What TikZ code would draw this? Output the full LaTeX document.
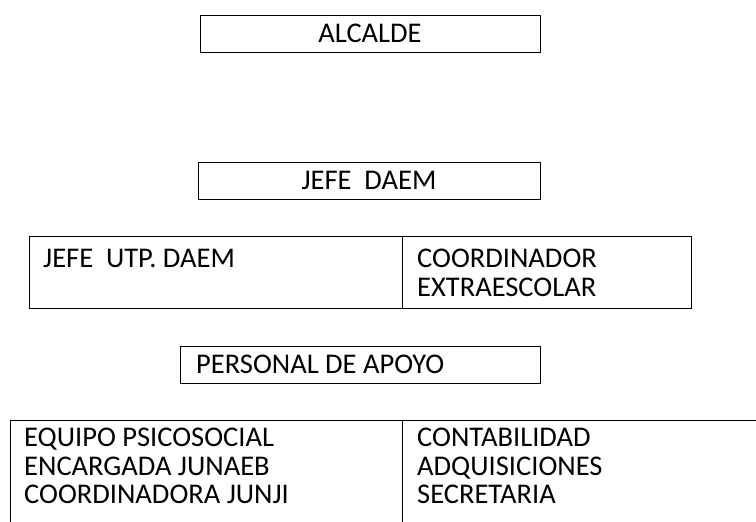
\documentclass[tikz,border=0pt]{standalone}
\usepackage{fontspec}
\setmainfont{Carlito}
\begin{document}
\begin{tikzpicture}[x=1pt,y=-1pt,
    every node/.style={font=\fontsize{28.5}{28.5}\selectfont},
    box/.style={draw, line width=1pt, inner sep=0pt},
    frame/.style={line width=1pt},
    cell/.style={anchor=base west, align=left, inner sep=0pt}]
  \useasboundingbox (0,0) rectangle (756,522);
  \clip (0,0) rectangle (756,522);
  % head
  \node[box, minimum width=340pt, minimum height=37pt] (alcalde) at (370,33.5) {ALCALDE};
  \node[box, minimum width=342pt, minimum height=37pt] (jefe) at (369,180.5) {JEFE\ \ DAEM};
  % utp and extraescolar
  \coordinate (utpNW) at (29,236);
  \coordinate (utpSE) at (691,308);
  \coordinate (utpMid) at (402,236);
  \draw[frame] (utpNW) rectangle (utpSE);
  \draw[frame] (utpMid) -- (utpMid |- utpSE);
  \node[cell] (utp) at (43,267) {JEFE\ \ UTP. DAEM};
  \node[cell] (coord) at (417,267) {COORDINADOR};
  \node[cell] (extra) at (417,296) {EXTRAESCOLAR};
  % apoyo
  \coordinate (apoyoNW) at (180,346);
  \coordinate (apoyoSE) at (540,383);
  \draw[frame] (apoyoNW) rectangle (apoyoSE);
  \node[cell] (apoyo) at (196,373.5) {PERSONAL DE APOYO};
  % bottom row, runs off the page (base is the last line)
  \coordinate (baseNW) at (10,420);
  \coordinate (baseMid) at (402,420);
  \draw[frame] (baseNW |- 0,540) -- (baseNW) -- (780,420);
  \draw[frame] (baseMid) -- (baseMid |- 0,540);
  \node[cell] (equipo) at (24,503.5) {EQUIPO PSICOSOCIAL\\ENCARGADA JUNAEB\\COORDINADORA JUNJI};
  \node[cell] (conta) at (417,503.5) {CONTABILIDAD\\ADQUISICIONES\\SECRETARIA};
\end{tikzpicture}
\end{document}
